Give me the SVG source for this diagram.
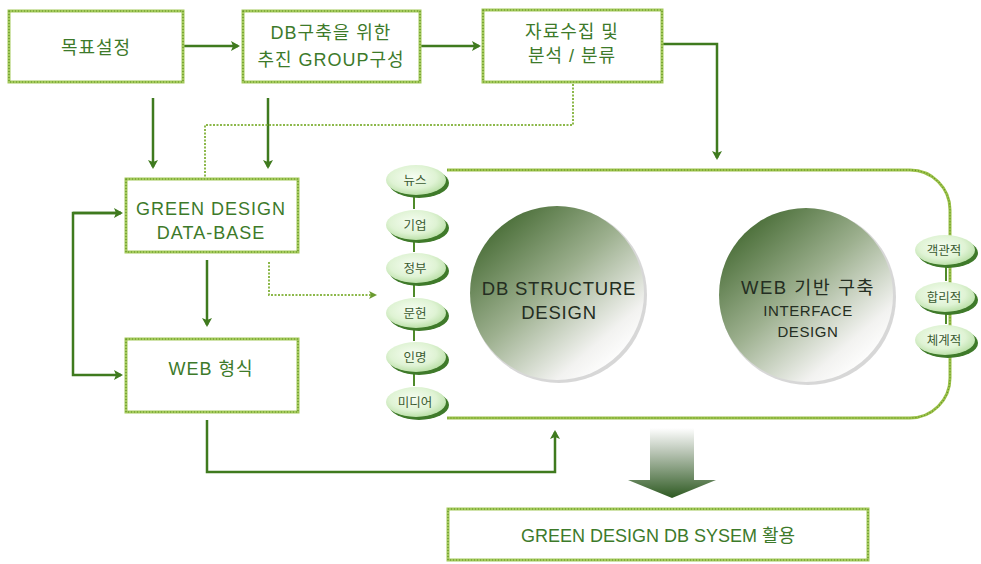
<svg xmlns="http://www.w3.org/2000/svg" width="981" height="564" viewBox="0 0 981 564">
<defs>
<style>
.box{fill:#fff;stroke:#a3c95a;stroke-width:3}
.boxd{fill:none;stroke:#5f8f22;stroke-width:1.2;stroke-dasharray:1 2}
.t{font-family:"Liberation Sans","Noto Sans CJK KR",sans-serif;font-size:18px;letter-spacing:1px;fill:#3d7a2a;text-anchor:middle}
.pt{font-family:"Noto Sans CJK KR","Liberation Sans",sans-serif;font-size:12.5px;fill:#3a5a30;text-anchor:middle}
.ct{font-family:"Liberation Sans","Noto Sans CJK KR",sans-serif;fill:#242e22;text-anchor:middle}
.ln{fill:none;stroke:#3f7a1e;stroke-width:2.5}
.dl{fill:none;stroke:#8cb84a;stroke-width:2;stroke-dasharray:2 1.5}
.bb{fill:none;stroke:#9cc24a;stroke-width:3}
.pc{fill:none;stroke:#4f8a2a;stroke-width:2}
</style>
<marker id="ah" markerWidth="10" markerHeight="10" refX="7" refY="5" orient="auto" markerUnits="userSpaceOnUse">
<path d="M0,0 L9,5 L0,10 L2,5 Z" fill="#3f7a1e"/>
</marker>
<marker id="ah2" markerWidth="10" markerHeight="10" refX="7" refY="5" orient="auto" markerUnits="userSpaceOnUse">
<path d="M0,1 L8,5 L0,9 L2,5 Z" fill="#6a9a30"/>
</marker>
<radialGradient id="pill" cx="0.45" cy="0.4" r="0.65">
<stop offset="0" stop-color="#f6fdf2"/>
<stop offset="0.6" stop-color="#dff3d4"/>
<stop offset="1" stop-color="#b4dca0"/>
</radialGradient>
<linearGradient id="ball" x1="0.15" y1="0.1" x2="0.85" y2="0.9">
<stop offset="0" stop-color="#4a6e38"/>
<stop offset="0.45" stop-color="#9db08f"/>
<stop offset="0.85" stop-color="#f2f2f0"/>
<stop offset="1" stop-color="#ffffff"/>
</linearGradient>
<linearGradient id="barrow" x1="0" y1="0" x2="0" y2="1">
<stop offset="0" stop-color="#ffffff"/>
<stop offset="0.35" stop-color="#b8c4b4"/>
<stop offset="1" stop-color="#2e5a22"/>
</linearGradient>
</defs>

<g id="connectors">
<path class="ln" d="M183,46 H238" marker-end="url(#ah)"/>
<path class="ln" d="M420,46 H479" marker-end="url(#ah)"/>
<path class="ln" d="M662,44 H717 V158" marker-end="url(#ah)"/>
<path class="ln" d="M153,98 V167" marker-end="url(#ah)"/>
<path class="ln" d="M268,98 V167" marker-end="url(#ah)"/>
<path class="dl" d="M573,84 V125 H205 V177"/>
<path class="ln" d="M121,213 H73 V375 H121" marker-end="url(#ah)"/>
<path class="ln" d="M73,213 H121" marker-end="url(#ah)"/>
<path class="ln" d="M207,260 V325" marker-end="url(#ah)"/>
<path class="dl" d="M269,262 V295 H376" marker-end="url(#ah2)"/>
<path class="ln" d="M207,420 V472 H555 V432" marker-end="url(#ah)"/>
</g>

<g id="n-goal">
<rect class="box" x="9" y="11" width="174" height="71"/>
<rect class="boxd" x="9" y="11" width="174" height="71"/>
<text class="t" x="96" y="54">목표설정</text>
</g>
<g id="n-group">
<rect class="box" x="243" y="11" width="177" height="71"/>
<rect class="boxd" x="243" y="11" width="177" height="71"/>
<text class="t" x="331" y="39">DB구축을 위한</text>
<text class="t" x="331" y="66">추진 GROUP구성</text>
</g>
<g id="n-collect">
<rect class="box" x="483" y="10" width="179" height="72"/>
<rect class="boxd" x="483" y="10" width="179" height="72"/>
<text class="t" x="572" y="38">자료수집 및</text>
<text class="t" x="572" y="62">분석 / 분류</text>
</g>
<g id="n-db">
<rect class="box" x="126" y="179" width="172" height="73"/>
<rect class="boxd" x="126" y="179" width="172" height="73"/>
<text class="t" x="211" y="215">GREEN DESIGN</text>
<text class="t" x="211" y="239">DATA-BASE</text>
</g>
<g id="n-web">
<rect class="box" x="126" y="339" width="172" height="73"/>
<rect class="boxd" x="126" y="339" width="172" height="73"/>
<text class="t" x="211" y="375">WEB 형식</text>
</g>

<g id="n-system">
<path class="bb" d="M447,170 H910 A40,40 0 0 1 950,210 V378 A40,40 0 0 1 910,418 H447"/>
<path class="boxd" d="M447,170 H910 A40,40 0 0 1 950,210 V378 A40,40 0 0 1 910,418 H447"/>
<path class="pc" d="M414,196 V209 M414,241 V252 M414,284 V297 M414,329 V341 M414,373 V386 M946,266 V281 M946,313 V324"/>
<g id="n-dbstruct">
<circle cx="559" cy="295" r="88" fill="#bdbdbd" opacity="0.6"/>
<circle cx="557" cy="293" r="87" fill="url(#ball)"/>
<text class="ct" x="559" y="295" font-size="18.5" letter-spacing="0.8">DB STRUCTURE</text>
<text class="ct" x="559" y="319" font-size="18.5" letter-spacing="0.8">DESIGN</text>
</g>
<g id="n-webif">
<circle cx="808" cy="297" r="88" fill="#bdbdbd" opacity="0.6"/>
<circle cx="806" cy="295" r="87" fill="url(#ball)"/>
<text class="ct" x="808" y="294" font-size="18.5" letter-spacing="1.5">WEB 기반 구축</text>
<text class="ct" x="808" y="316" font-size="15" letter-spacing="0.6">INTERFACE</text>
<text class="ct" x="808" y="337" font-size="15" letter-spacing="0.6">DESIGN</text>
</g>
<g id="pills-left">
<g id="p-news"><ellipse cx="419" cy="183" rx="30" ry="15" fill="#3f7a2a"/><ellipse cx="416" cy="180" rx="30" ry="15" fill="url(#pill)"/><text class="pt" x="415" y="185">뉴스</text></g>
<g id="p-corp"><ellipse cx="419" cy="228" rx="30" ry="15" fill="#3f7a2a"/><ellipse cx="416" cy="225" rx="30" ry="15" fill="url(#pill)"/><text class="pt" x="415" y="230">기업</text></g>
<g id="p-gov"><ellipse cx="419" cy="271" rx="30" ry="15" fill="#3f7a2a"/><ellipse cx="416" cy="268" rx="30" ry="15" fill="url(#pill)"/><text class="pt" x="415" y="273">정부</text></g>
<g id="p-lit"><ellipse cx="419" cy="316" rx="30" ry="15" fill="#3f7a2a"/><ellipse cx="416" cy="313" rx="30" ry="15" fill="url(#pill)"/><text class="pt" x="415" y="318">문헌</text></g>
<g id="p-person"><ellipse cx="419" cy="360" rx="30" ry="15" fill="#3f7a2a"/><ellipse cx="416" cy="357" rx="30" ry="15" fill="url(#pill)"/><text class="pt" x="415" y="362">인명</text></g>
<g id="p-media"><ellipse cx="419" cy="405" rx="30" ry="15" fill="#3f7a2a"/><ellipse cx="416" cy="402" rx="30" ry="15" fill="url(#pill)"/><text class="pt" x="415" y="407">미디어</text></g>
</g>
<g id="pills-right">
<g id="p-obj"><ellipse cx="948" cy="253" rx="30" ry="15" fill="#3f7a2a"/><ellipse cx="945" cy="250" rx="30" ry="15" fill="url(#pill)"/><text class="pt" x="944" y="255">객관적</text></g>
<g id="p-rat"><ellipse cx="948" cy="300" rx="30" ry="15" fill="#3f7a2a"/><ellipse cx="945" cy="297" rx="30" ry="15" fill="url(#pill)"/><text class="pt" x="944" y="302">합리적</text></g>
<g id="p-sys"><ellipse cx="948" cy="343" rx="30" ry="15" fill="#3f7a2a"/><ellipse cx="945" cy="340" rx="30" ry="15" fill="url(#pill)"/><text class="pt" x="944" y="345">체계적</text></g>
</g>
</g>

<g id="big-arrow">
<path d="M650,428 H694 V480 H716 L672,498 L628,480 H650 Z" fill="url(#barrow)"/>
</g>

<g id="n-use">
<rect class="box" x="448" y="509" width="420" height="51"/>
<rect class="boxd" x="448" y="509" width="420" height="51"/>
<text class="t" x="658" y="542" style="letter-spacing:0">GREEN DESIGN DB SYSEM 활용</text>
</g>
</svg>
